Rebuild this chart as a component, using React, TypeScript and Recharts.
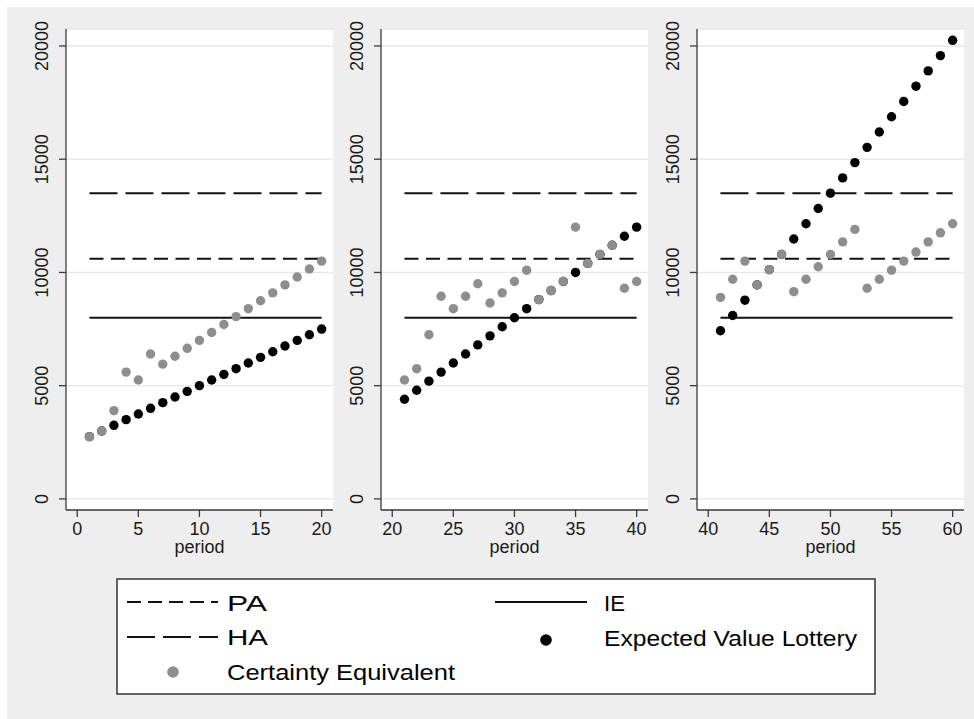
import React from 'react';
import { ScatterChart, Scatter, XAxis, YAxis, CartesianGrid } from 'recharts';

const FONT = '"Liberation Sans", Arial, Helvetica, sans-serif';

// reference levels (horizontal lines)
const HA = 13500;
const PA = 10600;
const IE = 8000;

const periods1 = [1, 2, 3, 4, 5, 6, 7, 8, 9, 10, 11, 12, 13, 14, 15, 16, 17, 18, 19, 20];
const periods2 = [21, 22, 23, 24, 25, 26, 27, 28, 29, 30, 31, 32, 33, 34, 35, 36, 37, 38, 39, 40];
const periods3 = [41, 42, 43, 44, 45, 46, 47, 48, 49, 50, 51, 52, 53, 54, 55, 56, 57, 58, 59, 60];

// Expected Value Lottery (black dots)
const ev1 = [2750, 3000, 3250, 3500, 3750, 4000, 4250, 4500, 4750, 5000, 5250, 5500, 5750, 6000, 6250, 6500, 6750, 7000, 7250, 7500];
const ev2 = [4400, 4800, 5200, 5600, 6000, 6400, 6800, 7200, 7600, 8000, 8400, 8800, 9200, 9600, 10000, 10400, 10800, 11200, 11600, 12000];
const ev3 = [7425, 8100, 8775, 9450, 10125, 10800, 11475, 12150, 12825, 13500, 14175, 14850, 15525, 16200, 16875, 17550, 18225, 18900, 19575, 20250];

// Certainty Equivalent (grey dots)
const ce1 = [2750, 3000, 3900, 5600, 5250, 6400, 5950, 6300, 6650, 7000, 7350, 7700, 8050, 8400, 8750, 9100, 9450, 9800, 10150, 10500];
const ce2 = [5250, 5750, 7250, 8950, 8400, 8950, 9500, 8650, 9100, 9600, 10100, 8800, 9200, 9600, 12000, 10400, 10800, 11200, 9300, 9600];
const ce3 = [8900, 9700, 10500, 9450, 10125, 10800, 9150, 9700, 10250, 10800, 11350, 11900, 9300, 9700, 10100, 10500, 10900, 11350, 11750, 12150];

const yTicks = [0, 5000, 10000, 15000, 20000];
const xTicks1 = [0, 5, 10, 15, 20];
const xTicks2 = [20, 25, 30, 35, 40];
const xTicks3 = [40, 45, 50, 55, 60];

const GREY = '#8e8e8e';
const AXIS = '#3a3a3a';
const TXT = '#1a1a1a';

const toRows = (periods: number[], values: number[]) =>
  periods.map((p, i) => ({ period: p, value: values[i] }));

const hLine = (periods: number[], v: number) => [
  { period: periods[0], value: v },
  { period: periods[periods.length - 1], value: v },
];

const YTick = (props: any) => {
  const { x, y, payload } = props;
  const bx = x - 9;
  return (
    <text x={bx} y={y} transform={`rotate(-90, ${bx}, ${y})`} textAnchor="middle"
      fontSize={18} fontFamily={FONT} fill={TXT}>
      {payload.value}
    </text>
  );
};

const XTick = (props: any) => {
  const { x, y, payload } = props;
  return (
    <text x={x} y={y} dy="0.71em" textAnchor="middle" fontSize={18} fontFamily={FONT} fill={TXT}>
      {payload.value}
    </text>
  );
};

const dot = (color: string) => (props: any) =>
  <circle cx={props.cx} cy={props.cy} r={4.7} fill={color} />;

const noDot = () => <g />;

interface PanelProps {
  left: number;
  periods: number[];
  ev: number[];
  ce: number[];
  xDomain: [number, number];
  xTicks: number[];
}

const Panel: React.FC<PanelProps> = ({ left, periods, ev, ce, xDomain, xTicks }) => {
  const evRows = toRows(periods, ev);
  const ceRows = toRows(periods, ce);
  return (
    <div style={{ position: 'absolute', left, top: 0 }}>
      <ScatterChart width={331} height={560} margin={{ top: 29, right: 4, bottom: 0, left: 0 }}>
        <CartesianGrid vertical={false} fill="#ffffff" stroke="#e6e6e6" strokeWidth={1.3} />
        <XAxis
          type="number"
          dataKey="period"
          domain={xDomain}
          ticks={xTicks}
          allowDataOverflow
          height={50}
          tickSize={7}
          tickMargin={5}
          stroke={AXIS}
          strokeWidth={1.3}
          tick={<XTick />}
          label={{ value: 'period', position: 'insideBottom', offset: 7, style: { fontSize: 18, fontFamily: FONT, fill: TXT } }}
        />
        <YAxis
          type="number"
          dataKey="value"
          domain={[-490, 20750]}
          ticks={yTicks}
          allowDataOverflow
          width={60}
          tickSize={7}
          stroke={AXIS}
          strokeWidth={1.3}
          tick={<YTick />}
        />
        <Scatter data={hLine(periods, IE)} line={{ stroke: '#111', strokeWidth: 2 }} shape={noDot} isAnimationActive={false} />
        <Scatter data={hLine(periods, PA)} line={{ stroke: '#111', strokeWidth: 2, strokeDasharray: '14 7.5' }} shape={noDot} isAnimationActive={false} />
        <Scatter data={hLine(periods, HA)} line={{ stroke: '#111', strokeWidth: 2, strokeDasharray: '28 8' }} shape={noDot} isAnimationActive={false} />
        <Scatter data={evRows} fill="#000" shape={dot('#000')} isAnimationActive={false} />
        <Scatter data={ceRows} fill={GREY} shape={dot(GREY)} isAnimationActive={false} />
      </ScatterChart>
    </div>
  );
};

const LegendBox: React.FC = () => {
  const text = { fontSize: 22, fontFamily: FONT, fill: '#000', lengthAdjust: 'spacingAndGlyphs' as const };
  return (
    <svg width={760} height={117} style={{ position: 'absolute', left: 116, top: 578 }}>
      <rect x={1} y={1} width={758} height={115} fill="#fff" stroke="#333" strokeWidth={1.5} />
      <line x1={11} x2={102} y1={24} y2={24} stroke="#111" strokeWidth={2} strokeDasharray="14 7" />
      <text x={111} y={32.5} textLength={40} {...text}>PA</text>
      <line x1={11} x2={102} y1={59} y2={59} stroke="#111" strokeWidth={2} strokeDasharray="28 8" />
      <text x={111} y={67} textLength={41} {...text}>HA</text>
      <circle cx={57} cy={94} r={5.8} fill={GREY} />
      <text x={111} y={102} textLength={228} {...text}>Certainty Equivalent</text>
      <line x1={379} x2={471} y1={24} y2={24} stroke="#111" strokeWidth={2} />
      <text x={488} y={33} textLength={21} {...text}>IE</text>
      <circle cx={430} cy={62} r={5.8} fill="#000" />
      <text x={488} y={68} textLength={253} {...text}>Expected Value Lottery</text>
    </svg>
  );
};

export default function App() {
  return (
    <div style={{ position: 'absolute', left: 0, top: 0, width: 974, height: 719, background: '#ffffff' }}>
      <div style={{ position: 'absolute', left: 7, top: 7, width: 967, height: 712, background: '#eeeeee' }} />
      <Panel left={5.7} periods={periods1} ev={ev1} ce={ce1} xDomain={[-0.92, 20.93]} xTicks={xTicks1} />
      <Panel left={321} periods={periods2} ev={ev2} ce={ce2} xDomain={[19.08, 40.93]} xTicks={xTicks2} />
      <Panel left={636.7} periods={periods3} ev={ev3} ce={ce3} xDomain={[39.08, 60.93]} xTicks={xTicks3} />
      <LegendBox />
    </div>
  );
}
